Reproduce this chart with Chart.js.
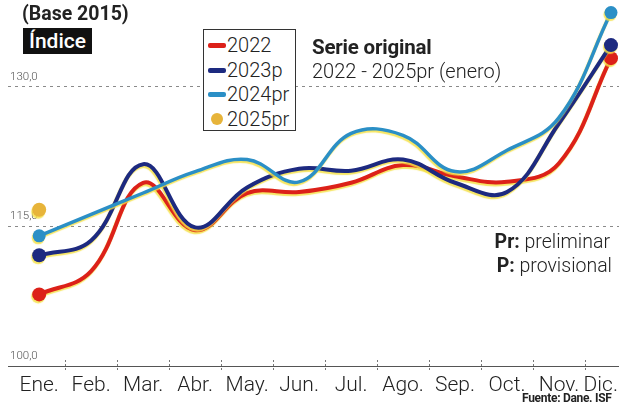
<!DOCTYPE html>
<html>
<head>
<meta charset="utf-8">
<script src="https://cdn.jsdelivr.net/npm/chart.js@4"></script>
<style>
  html,body{margin:0;padding:0;background:#fff;}
  #wrap{position:relative;width:619px;height:404px;overflow:hidden;font-family:Roboto,"Open Sans",sans-serif;color:#222;}
  canvas{position:absolute;left:0;top:0;}
  .t{position:absolute;white-space:nowrap;}
  .lg{position:absolute;left:203px;top:29px;width:93px;height:102px;border:1px solid #333;background:#fff;box-sizing:border-box;}
  .lgi{position:absolute;left:0;height:24px;font-size:20px;line-height:24px;}
  .sw{position:absolute;left:4px;top:10px;width:18px;height:5px;border-radius:2px;}
  .lgt{position:absolute;left:23px;top:0;font-weight:300;}
</style>
</head>
<body>
<div id="wrap">
  <canvas id="c" width="619" height="404"></canvas>
  <div class="t" style="left:22px;top:2px;font-size:19.5px;font-weight:700;">(Base 2015)</div>
  <div class="t" style="left:23px;top:28px;width:69px;height:26px;background:#111;color:#fff;font-size:21px;line-height:26px;text-align:center;font-weight:500;">Índice</div>
  <div class="lg" id="lg"></div>
  <div class="t" style="left:312px;top:35px;font-size:20.5px;font-weight:700;letter-spacing:-0.2px;">Serie original</div>
  <div class="t" style="left:312px;top:59px;font-size:20px;font-weight:300;">2022 - 2025pr (enero)</div>
  <div class="t" style="right:9px;top:230px;font-size:19.5px;font-weight:300;"><b style="font-weight:700">Pr:</b> preliminar</div>
  <div class="t" style="right:7px;top:254px;font-size:19.5px;font-weight:300;"><b style="font-weight:700">P:</b> provisional</div>
  <div class="t" style="left:522px;top:391px;font-size:12px;font-weight:700;letter-spacing:-0.3px;">Fuente: Dane. ISF</div>
</div>
<script>
const categories = ["Ene.", "Feb.", "Mar.", "Abr.", "May.", "Jun.", "Jul.", "Ago.", "Sep.", "Oct.", "Nov.", "Dic."];
const seriesNames = ["2022", "2023p", "2024pr", "2025pr"];
const values2022   = [107.7, 110.2, 119.7, 114.6, 118.6, 118.7, 119.7, 121.6, 120.4, 119.8, 121.8, 133.1];
const values2023p  = [111.9, 113.5, 121.7, 114.9, 119.2, 121.2, 121.0, 122.2, 119.7, 118.7, 126.1, 134.5];
const values2024pr = [114.0, 116.3, 118.6, 120.9, 122.2, 119.8, 125.0, 124.8, 120.9, 123.2, 126.7, 138.0];
const values2025pr = [116.8];
const yTickValues  = [100, 115, 130];

const colors = ["#dc2119", "#1d2a80", "#2b8fc6", "#e7b43a"];

function pts(arr){ return arr.map((v,i)=>({x:i,y:v})); }
function endRadius(arr, r){ return arr.map((v,i)=> (i===0||i===arr.length-1) ? r : 0); }

const datasets = [
  {label:seriesNames[0], data:pts(values2022), borderColor:colors[0], backgroundColor:colors[0], borderWidth:4, tension:0.4, pointRadius:endRadius(values2022,7), order:3},
  {label:seriesNames[1], data:pts(values2023p), borderColor:colors[1], backgroundColor:colors[1], borderWidth:4, tension:0.4, pointRadius:endRadius(values2023p,7), order:2},
  {label:seriesNames[2], data:pts(values2024pr), borderColor:colors[2], backgroundColor:colors[2], borderWidth:3.5, tension:0.4, pointRadius:endRadius(values2024pr,6.5), order:1},
  {label:seriesNames[3], data:pts(values2025pr), borderColor:colors[3], backgroundColor:colors[3], borderWidth:0, showLine:false, pointRadius:7, order:0}
];
datasets.forEach(d=>{ d.clip=false; d.pointBorderWidth=0; d.pointHoverRadius=0; });

// legend (HTML)
const lg = document.getElementById('lg');
seriesNames.forEach((n,i)=>{
  const it = document.createElement('div');
  it.className='lgi'; it.style.top=(3+i*24.5)+'px';
  const sw = document.createElement('div'); sw.className='sw';
  sw.style.background = colors[i];
  if(i===3){ sw.style.width='12px'; sw.style.height='12px'; sw.style.borderRadius='50%'; sw.style.left='7px'; sw.style.top='6px'; }
  const tx = document.createElement('div'); tx.className='lgt'; tx.textContent=n;
  it.appendChild(sw); it.appendChild(tx); lg.appendChild(it);
});

const shadowPlugin = {
  id:'shadow',
  beforeDatasetDraw(chart){ const c=chart.ctx; c.save(); c.shadowColor='rgba(245,225,70,0.85)'; c.shadowOffsetX=-1; c.shadowOffsetY=2; c.shadowBlur=1; },
  afterDatasetDraw(chart){ chart.ctx.restore(); }
};
const midTicks = {
  id:'midTicks',
  afterDraw(chart){
    const xs = chart.scales.x, c = chart.ctx, y0 = chart.chartArea.bottom;
    c.save(); c.strokeStyle='#777'; c.lineWidth=1; c.setLineDash([2,2]);
    for(let i=0;i<categories.length-1;i++){
      const x = Math.round(xs.getPixelForValue(i+0.5))+0.5;
      c.beginPath(); c.moveTo(x,y0-6); c.lineTo(x,y0+4); c.stroke();
    }
    c.restore();
  }
};

new Chart(document.getElementById('c'), {
  type:'line',
  data:{datasets},
  options:{
    responsive:false, animation:false, events:[],
    layout:{padding:0, autoPadding:false},
    plugins:{legend:{display:false}, tooltip:{enabled:false}},
    scales:{
      x:{type:'linear', min:-0.6, max:11.154,
        afterBuildTicks:s=>{ s.ticks = categories.map((c,i)=>({value:i})); },
        afterFit:s=>{ s.height=38; s.paddingLeft=0; s.paddingRight=0; },
        grid:{display:false},
        border:{display:true,color:'#555',width:1},
        ticks:{autoSkip:false, maxRotation:0, padding:-1, color:'#222', font:{family:'Roboto', size:21, weight:300},
          callback:v=> v===categories.length-1 ? categories[v]+'    ' : categories[v]}
      },
      y:{type:'linear', min:100, max:139.35,
        afterBuildTicks:s=>{ s.ticks = yTickValues.map(v=>({value:v})); },
        afterFit:s=>{ s.width=8; s.paddingTop=0; s.paddingBottom=0; },
        grid:{drawTicks:false, lineWidth:1, color:ctx=> (ctx.tick && ctx.tick.value===100) ? 'rgba(0,0,0,0)' : '#8a8a8a'},
        border:{display:false, dash:[3,4]},
        ticks:{mirror:true, padding:2, labelOffset:-10, color:'#555', font:{family:'Roboto', size:11.5, weight:300}, callback:v=>v.toFixed(1).replace('.',',')}
      }
    }
  },
  plugins:[shadowPlugin, midTicks]
});
</script>
</body>
</html>
